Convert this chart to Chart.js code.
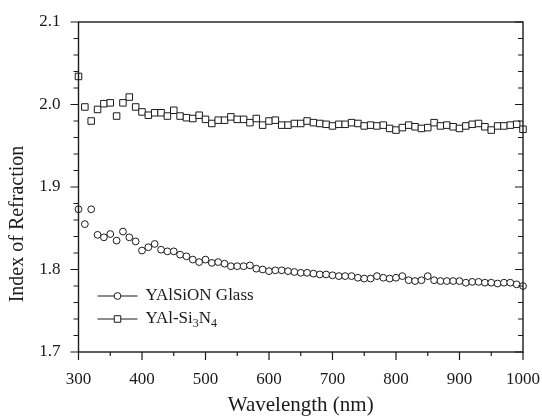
<!DOCTYPE html>
<html>
<head>
<meta charset="utf-8">
<script src="https://cdn.jsdelivr.net/npm/chart.js@4/dist/chart.umd.min.js"></script>
<style>
  html, body { margin: 0; padding: 0; background: #fff; }
  #wrap { width: 542px; height: 418px; position: relative; }
</style>
</head>
<body>
<div id="wrap"><canvas id="chart"></canvas></div>
<script>
// --- data ---
const wavelengths = [
  300, 310, 320, 330, 340, 350, 360, 370, 380, 390,
  400, 410, 420, 430, 440, 450, 460, 470, 480, 490,
  500, 510, 520, 530, 540, 550, 560, 570, 580, 590,
  600, 610, 620, 630, 640, 650, 660, 670, 680, 690,
  700, 710, 720, 730, 740, 750, 760, 770, 780, 790,
  800, 810, 820, 830, 840, 850, 860, 870, 880, 890,
  900, 910, 920, 930, 940, 950, 960, 970, 980, 990,
  1000
];
const glassIndex = [
  1.873, 1.855, 1.873, 1.842, 1.839, 1.843, 1.835, 1.846, 1.839, 1.834,
  1.823, 1.827, 1.831, 1.824, 1.822, 1.822, 1.818, 1.816, 1.812, 1.809,
  1.812, 1.808, 1.809, 1.807, 1.804, 1.804, 1.804, 1.805, 1.801, 1.800,
  1.798, 1.799, 1.799, 1.798, 1.797, 1.796, 1.796, 1.795, 1.794, 1.794,
  1.793, 1.792, 1.792, 1.792, 1.790, 1.789, 1.789, 1.792, 1.790, 1.789,
  1.790, 1.792, 1.787, 1.786, 1.787, 1.792, 1.787, 1.786, 1.786, 1.786,
  1.786, 1.784, 1.785, 1.785, 1.784, 1.784, 1.783, 1.784, 1.784, 1.782,
  1.780
];
const nitrideIndex = [
  2.034, 1.997, 1.980, 1.994, 2.001, 2.002, 1.986, 2.002, 2.009, 1.997,
  1.991, 1.987, 1.990, 1.990, 1.986, 1.993, 1.986, 1.984, 1.983, 1.987,
  1.982, 1.977, 1.981, 1.981, 1.985, 1.982, 1.982, 1.978, 1.983, 1.975,
  1.980, 1.981, 1.975, 1.975, 1.977, 1.977, 1.980, 1.978, 1.977, 1.976,
  1.974, 1.976, 1.976, 1.978, 1.977, 1.974, 1.975, 1.974, 1.975, 1.971,
  1.969, 1.972, 1.975, 1.973, 1.971, 1.972, 1.978, 1.974, 1.975, 1.973,
  1.971, 1.974, 1.976, 1.977, 1.973, 1.969, 1.974, 1.974, 1.975, 1.976,
  1.970
];
const seriesLabels = ['YAlSiON Glass', 'YAl-Si_3N_4'];
const xTicks = [300, 400, 500, 600, 700, 800, 900, 1000];
const yTicks = [1.7, 1.8, 1.9, 2.0, 2.1];
const yTitle = 'Index of Refraction';

const INK = '#1a1a1a';
const SERIF = '"Liberation Serif", "Times New Roman", serif';

function toPoints(ys) { return wavelengths.map((x, i) => ({ x: x, y: ys[i] })); }

// stop the scales from pushing the plot area inwards for half-labels
function noEdgePadding(s) {
  s.paddingLeft = 0; s.paddingRight = 0; s.paddingTop = 0; s.paddingBottom = 0;
}

// frame, ticks with minors, y title and the in-plot legend
const framePlugin = {
  id: 'frame',
  afterDraw(chart) {
    const { ctx, chartArea: a, scales } = chart;
    const xs = scales.x, ys = scales.y;
    ctx.save();
    ctx.strokeStyle = INK;
    ctx.lineWidth = 1.4;
    ctx.strokeRect(a.left, a.top, a.right - a.left, a.bottom - a.top);

    ctx.lineWidth = 1.2;
    ctx.beginPath();
    // x ticks: major every 100, minor every 50, pointing down
    for (let v = xs.min; v <= xs.max + 1e-6; v += 50) {
      const px = xs.getPixelForValue(v);
      const len = (v % 100 === 0) ? 8 : 4;
      ctx.moveTo(px, a.bottom); ctx.lineTo(px, a.bottom + len);
    }
    // y ticks: major every 0.1, minor every 0.02; out on the left, in on the right
    for (let k = 0; k <= 20; k++) {
      const v = ys.min + k * 0.02;
      const py = ys.getPixelForValue(v);
      const len = (k % 5 === 0) ? 8 : 5;
      ctx.moveTo(a.left - len, py); ctx.lineTo(a.left, py);
      ctx.moveTo(a.right - len, py); ctx.lineTo(a.right, py);
    }
    ctx.stroke();

    // y axis title, sits a little below the plot centre in the original
    ctx.save();
    ctx.translate(18, 224);
    ctx.rotate(-Math.PI / 2);
    ctx.fillStyle = INK;
    ctx.font = '20px ' + SERIF;
    ctx.textAlign = 'center';
    ctx.textBaseline = 'middle';
    ctx.fillText(yTitle, 0, 0);
    ctx.restore();

    // legend
    const x0 = a.left + 19;
    const rows = [a.bottom - 56, a.bottom - 33];
    chart.data.datasets.forEach((ds, i) => {
      const y = rows[i];
      ctx.strokeStyle = INK; ctx.lineWidth = 1;
      ctx.beginPath(); ctx.moveTo(x0, y); ctx.lineTo(x0 + 40, y); ctx.stroke();
      ctx.fillStyle = '#fff';
      ctx.beginPath();
      if (ds.pointStyle === 'rect') {
        const s = ds.pointRadius * Math.SQRT1_2;
        ctx.rect(x0 + 20 - s, y - s, 2 * s, 2 * s);
      } else {
        ctx.arc(x0 + 20, y, ds.pointRadius, 0, Math.PI * 2);
      }
      ctx.fill(); ctx.stroke();

      // label with _n subscripts
      ctx.fillStyle = INK;
      ctx.textBaseline = 'middle';
      ctx.textAlign = 'left';
      let tx = x0 + 48;
      ds.label.split(/(_\d)/).forEach(part => {
        if (!part) return;
        if (part[0] === '_') {
          ctx.font = '12px ' + SERIF;
          ctx.fillText(part.slice(1), tx, y + 5);
          tx += ctx.measureText(part.slice(1)).width;
        } else {
          ctx.font = '17px ' + SERIF;
          ctx.fillText(part, tx, y);
          tx += ctx.measureText(part).width;
        }
      });
    });
    ctx.restore();
  }
};

const chart = new Chart(document.getElementById('chart'), {
  type: 'scatter',
  data: {
    datasets: [
      { label: seriesLabels[0], data: toPoints(glassIndex), pointStyle: 'circle', pointRadius: 3.4,
        borderColor: INK, backgroundColor: '#fff', borderWidth: 1, showLine: false, clip: false },
      { label: seriesLabels[1], data: toPoints(nitrideIndex), pointStyle: 'rect', pointRadius: 4.6,
        borderColor: INK, backgroundColor: '#fff', borderWidth: 1, showLine: false, clip: false }
    ]
  },
  options: {
    responsive: true,
    maintainAspectRatio: false,
    animation: false,
    layout: { autoPadding: false, padding: { left: 0, right: 19, top: 22, bottom: 0 } },
    plugins: { legend: { display: false }, tooltip: { enabled: false } },
    scales: {
      x: {
        type: 'linear', min: 300, max: 1000,
        afterBuildTicks: s => { s.ticks = xTicks.map(v => ({ value: v })); },
        afterFit: s => { s.height = 66; noEdgePadding(s); },
        grid: { display: false, drawTicks: false },
        border: { display: false },
        ticks: { color: INK, font: { family: SERIF, size: 17 }, padding: 17, maxRotation: 0,
                 callback: v => String(v) },
        title: { display: true, text: 'Wavelength (nm)', color: INK,
                 font: { family: SERIF, size: 21 }, padding: { top: 0, bottom: 0 } }
      },
      y: {
        min: 1.7, max: 2.1,
        afterBuildTicks: s => { s.ticks = yTicks.map(v => ({ value: v })); },
        afterFit: s => { s.width = 78.5; noEdgePadding(s); },
        grid: { display: false, drawTicks: false },
        border: { display: false },
        ticks: { color: INK, font: { family: SERIF, size: 17 }, padding: 18,
                 callback: v => Number(v).toFixed(1) },
        title: { display: false }
      }
    }
  },
  plugins: [framePlugin]
});
</script>
</body>
</html>
